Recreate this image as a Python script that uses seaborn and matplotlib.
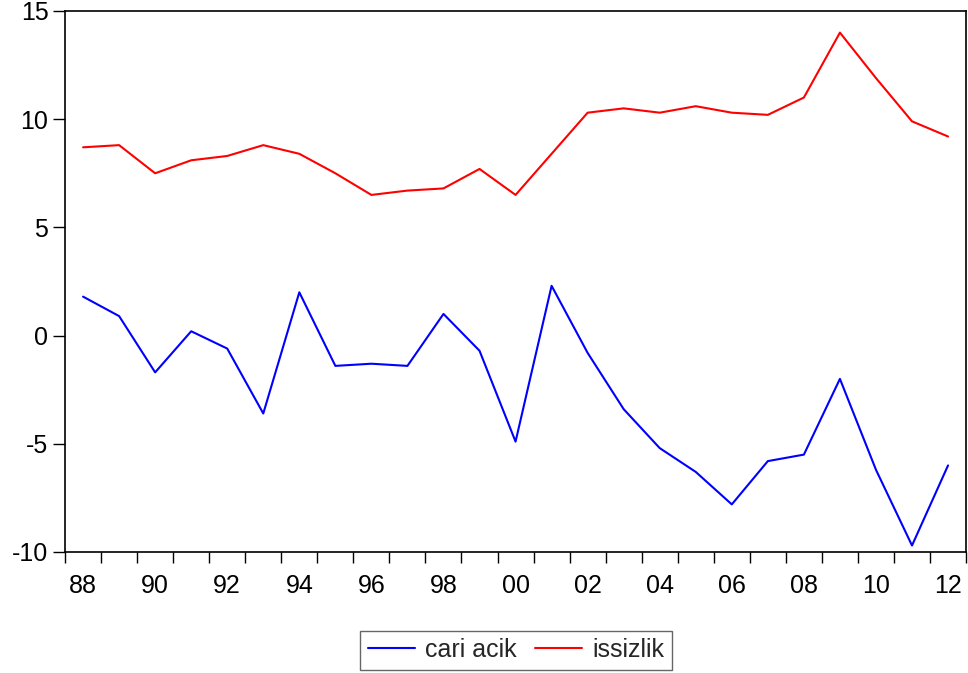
import matplotlib
matplotlib.use("Agg")
import matplotlib.pyplot as plt
import seaborn as sns
import pandas as pd

sns.set_theme(style="white")
plt.rcParams["font.family"] = ["Liberation Sans", "DejaVu Sans"]

years = list(range(1988, 2013))
cari_acik = [1.8, 0.9, -1.7, 0.2, -0.6, -3.6, 2.0, -1.4, -1.3, -1.4, 1.0, -0.7, -4.9,
             2.3, -0.8, -3.4, -5.2, -6.3, -7.8, -5.8, -5.5, -2.0, -6.2, -9.7, -6.0]
issizlik = [8.7, 8.8, 7.5, 8.1, 8.3, 8.8, 8.4, 7.5, 6.5, 6.7, 6.8, 7.7, 6.5,
            8.4, 10.3, 10.5, 10.3, 10.6, 10.3, 10.2, 11.0, 14.0, 11.9, 9.9, 9.2]
y_ticks = [-10, -5, 0, 5, 10, 15]

df = pd.DataFrame({
    "idx": list(range(len(years))) * 2,
    "value": cari_acik + issizlik,
    "series": ["cari acik"] * len(years) + ["issizlik"] * len(years),
})

fig = plt.figure(figsize=(9.68, 6.73), dpi=100)
ax = fig.add_axes([0.0672, 0.1798, 0.9308, 0.8039])

sns.lineplot(
    data=df, x="idx", y="value", hue="series",
    palette={"cari acik": "#0000FF", "issizlik": "#FF0000"},
    linewidth=1.5, ax=ax, legend=True
)

ax.set_xlim(-0.5, len(years) - 0.5)
ax.set_ylim(-10, 15)
ax.set_yticks(y_ticks)
ax.set_yticklabels([str(t) for t in y_ticks])

# labels every two years at the points, tick marks at period boundaries
label_idx = list(range(0, len(years), 2))
ax.set_xticks(label_idx)
ax.set_xticklabels([f"{years[i] % 100:02d}" for i in label_idx])
ax.set_xticks([i - 0.5 for i in range(len(years) + 1)], minor=True)
ax.tick_params(axis="x", which="major", length=0, labelsize=18, pad=16, colors="black")
ax.tick_params(axis="x", which="minor", length=8, width=1, direction="out",
               bottom=True, color="black")
ax.tick_params(axis="y", length=9, width=1, direction="out", left=True,
               labelsize=18, pad=3, colors="black")

for s in ax.spines.values():
    s.set_color("black")
    s.set_linewidth(1.2)

ax.set_xlabel("")
ax.set_ylabel("")
ax.grid(False)

handles, labels = ax.get_legend_handles_labels()
ax.get_legend().remove()
leg = fig.legend(handles, labels, loc="center", bbox_to_anchor=(0.533, 0.034),
                 ncol=2, fontsize=18, frameon=True, fancybox=False,
                 handlelength=1.9, columnspacing=0.7, handletextpad=0.4,
                 borderpad=0.3)
leg.get_frame().set_edgecolor("#404040")
leg.get_frame().set_linewidth(1.0)

fig.savefig("out.png", dpi=100)
